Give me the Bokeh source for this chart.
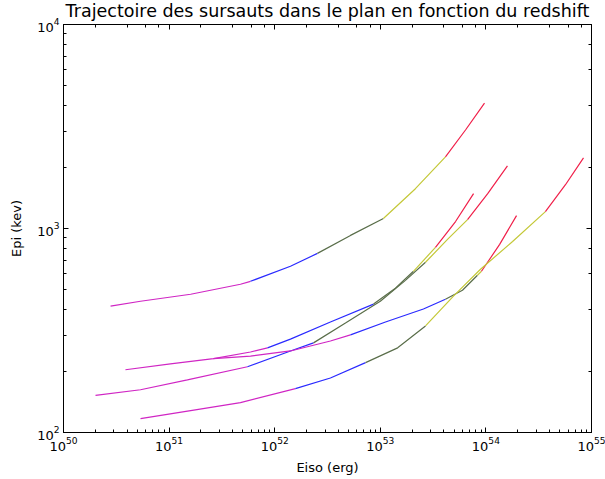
from bokeh.plotting import figure
from bokeh.models import LogAxis, Title, CustomJSTickFormatter
from bokeh.embed import file_html
from bokeh.resources import INLINE

# Trajectories (Eiso in erg, Epi in keV)
eiso_1 = [2.79e50, 5.36e50, 1.60e51, 4.74e51, 5.90e51, 1.41e52, 2.54e52, 5.22e52, 1.07e53, 2.15e53, 4.14e53, 6.41e53, 9.70e53]
epi_1 = [416, 440, 476, 533, 551, 653, 755, 925, 1119, 1567, 2245, 3040, 4118]
breaks_1 = [4, 6, 8, 10]

eiso_2 = [3.86e50, 1.03e51, 2.63e51, 5.90e51, 8.55e51, 1.41e52, 3.37e52, 8.63e52, 1.39e53, 2.06e53, 3.33e53, 5.16e53, 7.64e53]
epi_2 = [203, 217, 230, 248, 260, 287, 348, 426, 510, 617, 808, 1082, 1482]
breaks_2 = [4, 7, 9, 10]

eiso_3 = [2.01e50, 5.36e50, 1.49e51, 5.52e51, 1.41e52, 2.33e52, 4.68e52, 1.00e53, 1.73e53, 2.68e53, 4.33e53, 6.70e53, 1.04e54, 1.60e54]
epi_3 = [152, 162, 181, 210, 251, 275, 344, 440, 557, 683, 884, 1106, 1482, 2029]
breaks_3 = [3, 5, 9, 11]

eiso_4 = [2.63e51, 5.90e51, 1.41e52, 3.37e52, 5.22e52, 1.12e53, 2.56e53, 4.14e53, 6.00e53, 8.32e53, 9.08e53, 1.35e54, 1.95e54]
epi_4 = [230, 237, 251, 281, 301, 348, 403, 450, 498, 590, 617, 836, 1157]
breaks_4 = [4, 7, 9, 10]

eiso_5 = [5.36e50, 1.60e51, 4.74e51, 1.57e52, 3.37e52, 7.25e52, 1.46e53, 2.68e53, 4.93e53, 8.89e53, 1.79e54, 3.66e54, 5.67e54, 8.40e54]
epi_5 = [117, 128, 140, 164, 185, 220, 260, 333, 466, 631, 864, 1210, 1639, 2220]
breaks_5 = [3, 5, 7, 11]

curves = [(eiso_1, epi_1, breaks_1), (eiso_2, epi_2, breaks_2), (eiso_3, epi_3, breaks_3),
          (eiso_4, epi_4, breaks_4), (eiso_5, epi_5, breaks_5)]

seg_colors = ["#d026c4", "#2a2aff", "#5a6e4a", "#c4c838", "#f0204a"]

FONT = "DejaVu Sans"

p = figure(width=605, height=479, x_axis_type="log", y_axis_type="log",
           x_range=(1e50, 1e55), y_range=(1e2, 1e4),
           output_backend="svg", toolbar_location=None,
           min_border_left=63, min_border_right=14, min_border_top=0, min_border_bottom=47)

p.title = Title(text="Trajectoire des sursauts dans le plan en fonction du redshift",
                align="center", text_font=FONT, text_font_size="17.5px",
                text_font_style="normal", text_color="black", standoff=-3)

p.xgrid.visible = False
p.ygrid.visible = False
p.outline_line_color = "black"
p.outline_line_width = 1
p.background_fill_color = "white"
p.border_fill_color = "white"

for ax in [p.xaxis[0], p.yaxis[0]]:
    ax.major_tick_in = 5
    ax.major_tick_out = 0
    ax.minor_tick_in = 3
    ax.minor_tick_out = 0
    ax.axis_line_color = None
    ax.major_tick_line_color = "black"
    ax.minor_tick_line_color = "black"
    ax.major_label_text_font = FONT
    ax.major_label_text_font_size = "13px"
    ax.major_label_text_color = "black"
    ax.axis_label_text_font = FONT
    ax.axis_label_text_font_size = "13px"
    ax.axis_label_text_font_style = "normal"
    ax.axis_label_text_color = "black"

p.xaxis[0].axis_label = "Eiso (erg)"
p.yaxis[0].axis_label = "Epi (kev)"
p.xaxis[0].major_label_standoff = 4
p.yaxis[0].major_label_standoff = 4
p.xaxis[0].axis_label_standoff = 6
p.yaxis[0].axis_label_standoff = 10

blank = CustomJSTickFormatter(code="return ' ';")
for loc in ["right", "above"]:
    ax = LogAxis(formatter=blank)
    ax.major_tick_in = 5
    ax.major_tick_out = 0
    ax.minor_tick_in = 3
    ax.minor_tick_out = 0
    ax.axis_line_color = None
    ax.major_label_text_font_size = "2px"
    ax.major_label_standoff = 0
    p.add_layout(ax, loc)

for xs, ys, br in curves:
    starts = [0] + br
    ends = br + [len(xs) - 1]
    for k, (s, e) in enumerate(zip(starts, ends)):
        p.line(xs[s:e + 1], ys[s:e + 1], line_color=seg_colors[k], line_width=1.2)

open("out.html", "w").write(file_html(p, INLINE))
